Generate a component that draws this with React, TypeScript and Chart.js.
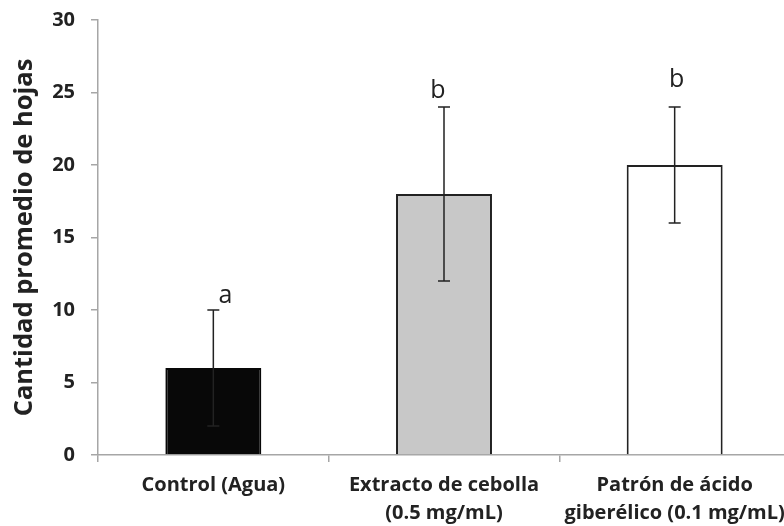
import React, { useEffect, useRef } from "react";
import { Chart, registerables } from "chart.js";

Chart.register(...registerables);

const categories: string[][] = [
  ["Control (Agua)"],
  ["Extracto de cebolla", "(0.5 mg/mL)"],
  ["Patrón de ácido", "giberélico (0.1 mg/mL)"],
];
const means = [6, 18, 20];
const errLow = [2, 12, 16];
const errHigh = [10, 24, 24];
const letters = ["a", "b", "b"];
const letterHeights = [10.5, 24.6, 25.4];
const yMin = 0;
const yMax = 30;
const yStep = 5;
const yTitle = "Cantidad promedio de hojas";

const barFills = ["#080808", "#c8c8c8", "#ffffff"];
const barBorders = ["#080808", "#222222", "#222222"];
const letterDx = [12, -6, 2];

const axisColor = "#a6a6a6";
const textColor = "#222222";
const fontFamily = "'Open Sans', 'DejaVu Sans', sans-serif";

const errorPlugin = {
  id: "errorBarsLetters",
  afterDatasetsDraw(chart: any) {
    const { ctx } = chart;
    const x = chart.scales.x;
    const y = chart.scales.y;
    ctx.save();
    ctx.strokeStyle = "#222222";
    ctx.lineWidth = 1.5;
    means.forEach((_, i) => {
      const px = x.getPixelForValue(i);
      const yl = y.getPixelForValue(errLow[i]);
      const yh = y.getPixelForValue(errHigh[i]);
      ctx.beginPath();
      ctx.moveTo(px, yl);
      ctx.lineTo(px, yh);
      ctx.moveTo(px - 6, yh);
      ctx.lineTo(px + 6, yh);
      ctx.moveTo(px - 6, yl);
      ctx.lineTo(px + 6, yl);
      ctx.stroke();
    });
    ctx.font = `25px ${fontFamily}`;
    ctx.fillStyle = textColor;
    ctx.textAlign = "center";
    ctx.textBaseline = "alphabetic";
    letters.forEach((l, i) => {
      ctx.fillText(l, x.getPixelForValue(i) + letterDx[i], y.getPixelForValue(letterHeights[i]));
    });
    ctx.restore();
  },
};

export default function App() {
  const ref = useRef<HTMLCanvasElement | null>(null);
  useEffect(() => {
    if (!ref.current) return;
    const chart = new Chart(ref.current, {
      type: "bar",
      data: {
        labels: categories,
        datasets: [
          {
            data: means,
            backgroundColor: barFills,
            borderColor: barBorders,
            borderWidth: 2,
            barPercentage: 0.416,
            categoryPercentage: 1,
          },
        ],
      },
      options: {
        animation: false,
        responsive: false,
        layout: { padding: { left: 0, top: 20, right: 10, bottom: 0 } },
        plugins: { legend: { display: false }, tooltip: { enabled: false } },
        scales: {
          x: {
            grid: {
              display: true,
              drawOnChartArea: false,
              drawTicks: true,
              tickLength: 7,
              color: axisColor,
              lineWidth: 1.5,
              offset: true,
            },
            border: { display: true, color: axisColor, width: 1.5 },
            ticks: {
              font: { family: fontFamily, size: 20, weight: "bold", lineHeight: 1.4 },
              color: textColor,
              padding: 9,
              maxRotation: 0,
              autoSkip: false,
            },
            afterFit(s: any) {
              s.height = 71;
              s.paddingLeft = 0;
              s.paddingRight = 0;
            },
          },
          y: {
            min: yMin,
            max: yMax,
            ticks: {
              stepSize: yStep,
              font: { family: fontFamily, size: 20, weight: "bold" },
              color: textColor,
              padding: 16,
            },
            grid: {
              display: true,
              drawOnChartArea: false,
              drawTicks: true,
              tickLength: 7,
              color: axisColor,
              lineWidth: 1.5,
            },
            border: { display: true, color: axisColor, width: 1.5 },
            title: {
              display: true,
              text: yTitle,
              font: { family: fontFamily, size: 25.5, weight: "bold" },
              color: textColor,
              padding: { top: 9, bottom: 0 },
            },
            afterFit(s: any) {
              s.width = 98;
              s.paddingTop = 0;
              s.paddingBottom = 0;
            },
          },
        },
      } as any,
      plugins: [errorPlugin],
    });
    return () => chart.destroy();
  }, []);
  return (
    <div
      style={{
        position: "absolute",
        left: 0,
        top: 0,
        width: 784,
        height: 526,
        overflow: "hidden",
        background: "#ffffff",
      }}
    >
      <canvas ref={ref} width={800} height={526} style={{ display: "block" }} />
    </div>
  );
}
